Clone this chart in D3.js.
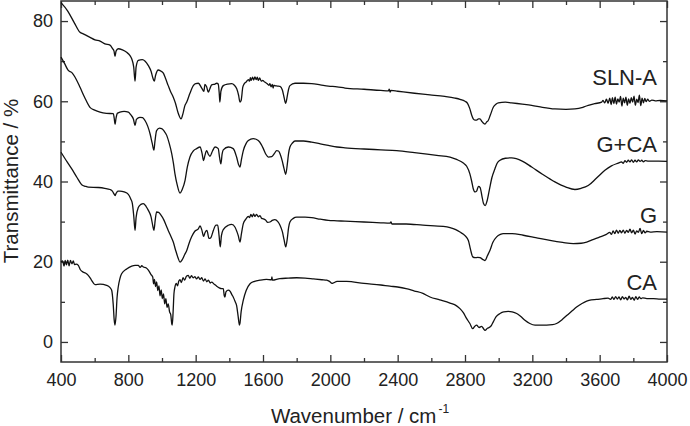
<!DOCTYPE html>
<html><head><meta charset="utf-8">
<script src="https://cdn.jsdelivr.net/npm/d3@7"></script>
<style>
html,body{margin:0;padding:0;background:#fff;}
svg{display:block;font-family:"Liberation Sans",Arial,sans-serif;}
</style></head>
<body><svg id="chart" width="690" height="426"></svg>
<script>
// ---- data (wavenumber cm^-1, transmittance %) ----
const xMajorTicks = [400,800,1200,1600,2000,2400,2800,3200,3600,4000];
const yMajorTicks = [0,20,40,60,80];
const seriesNames = ["SLN-A","G+CA","G","CA"];

const slnA = [[400,84.6],[440,82.5],[480,79.5],[513,77.2],[532,76.8],[570,76.0],[602,75.3],[632,75.0],[661,74.3],[691,74.0],[705,73.2],[715,72.5],[721,71.2],[727,72.5],[740,73.1],[765,72.8],[790,72.2],[810,71.4],[820,70.6],[832,68.5],[840,65.0],[846,68.5],[859,70.2],[883,70.4],[900,70.0],[919,68.9],[935,67.5],[946,65.8],[954,65.0],[962,66.5],[978,67.8],[990,67.6],[1008,67.0],[1020,65.8],[1037,63.9],[1050,62.5],[1067,61.0],[1080,59.5],[1095,57.2],[1113,55.6],[1125,57.0],[1135,58.8],[1147,59.8],[1166,62.0],[1186,63.9],[1200,64.4],[1216,64.5],[1236,63.3],[1249,62.5],[1255,64.2],[1265,63.6],[1275,62.3],[1285,63.2],[1295,64.1],[1315,64.3],[1325,64.5],[1334,64.3],[1340,62.0],[1344,59.8],[1350,62.5],[1364,63.9],[1390,64.3],[1414,64.4],[1430,64.0],[1444,63.1],[1455,61.5],[1463,59.8],[1470,60.2],[1480,63.5],[1489,64.4],[1500,64.8],[1513,65.4],[1520,65.0],[1525,65.9],[1530,65.2],[1538,66.0],[1545,65.3],[1552,66.1],[1560,65.4],[1566,66.0],[1572,65.2],[1580,65.8],[1590,65.0],[1598,65.2],[1610,64.8],[1625,64.4],[1635,64.0],[1641,64.4],[1648,63.6],[1655,64.2],[1660,63.3],[1665,64.0],[1671,63.9],[1685,63.8],[1701,63.7],[1715,62.8],[1725,61.0],[1735,59.5],[1745,61.5],[1752,63.0],[1760,63.9],[1790,64.5],[1840,64.5],[1889,64.4],[1940,64.1],[1988,63.8],[2040,63.6],[2087,63.3],[2200,63.0],[2300,62.7],[2345,62.6],[2350,63.0],[2355,62.3],[2360,62.7],[2400,62.5],[2500,62.0],[2592,61.6],[2680,61.2],[2740,60.8],[2770,60.5],[2800,60.0],[2815,59.5],[2829,58.1],[2840,56.5],[2849,55.6],[2859,55.3],[2869,55.3],[2880,55.6],[2889,55.6],[2900,55.0],[2910,54.5],[2919,54.3],[2928,54.8],[2938,55.2],[2950,56.5],[2968,58.5],[2985,59.3],[2998,59.6],[3040,59.8],[3077,59.6],[3140,59.3],[3196,59.0],[3260,58.5],[3334,58.1],[3400,58.0],[3453,58.1],[3500,58.5],[3532,59.0],[3570,59.4],[3612,59.8],[3620,60.2],[3630,59.6],[3640,60.5],[3650,59.5],[3660,60.8],[3668,59.2],[3676,60.9],[3684,59.4],[3692,61.0],[3700,59.3],[3708,60.6],[3716,59.8],[3724,61.2],[3732,58.8],[3740,60.8],[3748,59.6],[3756,61.0],[3764,59.0],[3772,60.6],[3780,59.5],[3788,60.9],[3796,59.8],[3804,61.3],[3812,59.0],[3820,60.5],[3828,59.7],[3836,61.5],[3844,58.9],[3852,60.8],[3860,59.6],[3868,60.7],[3876,59.9],[3885,60.5],[3895,60.0],[3910,60.3],[3930,60.1],[3960,60.2],[4000,60.1]];

const gCa = [[400,71.0],[420,69.5],[443,67.7],[463,67.2],[490,65.5],[513,63.5],[540,61.0],[572,58.5],[600,57.8],[632,57.3],[670,57.0],[711,56.9],[716,55.8],[721,54.3],[727,55.8],[735,57.0],[750,57.3],[775,57.5],[800,57.3],[815,56.6],[830,55.6],[840,54.0],[848,55.5],[869,56.0],[885,55.9],[899,55.2],[915,53.8],[929,51.9],[942,49.5],[952,47.8],[958,50.0],[968,52.7],[985,53.3],[998,53.2],[1012,52.6],[1028,51.5],[1043,49.5],[1058,46.9],[1068,44.5],[1077,41.9],[1090,39.2],[1107,37.1],[1120,38.0],[1137,40.3],[1150,43.5],[1166,46.1],[1186,47.6],[1206,48.2],[1226,48.6],[1238,47.0],[1247,45.2],[1255,46.5],[1265,47.7],[1275,46.8],[1285,46.3],[1300,47.6],[1315,48.6],[1334,48.2],[1342,46.0],[1350,44.4],[1357,46.8],[1364,47.9],[1394,48.6],[1423,48.2],[1443,46.1],[1455,44.2],[1463,43.6],[1472,45.5],[1483,47.7],[1500,49.5],[1513,50.2],[1542,50.7],[1572,50.2],[1590,49.2],[1602,48.2],[1617,46.8],[1632,46.1],[1652,46.2],[1668,47.0],[1681,47.7],[1692,47.6],[1701,46.9],[1715,45.0],[1725,43.2],[1735,41.8],[1745,44.5],[1752,47.0],[1760,48.6],[1775,49.6],[1790,50.1],[1840,50.1],[1889,49.8],[1940,49.4],[1988,49.0],[2040,48.6],[2087,48.4],[2200,48.1],[2300,47.9],[2394,47.7],[2500,47.2],[2632,46.5],[2711,46.1],[2750,45.5],[2790,44.6],[2810,43.8],[2829,41.9],[2840,40.0],[2849,38.2],[2860,37.4],[2869,37.6],[2880,38.8],[2890,38.5],[2900,36.5],[2910,34.5],[2920,34.0],[2930,35.0],[2945,38.0],[2960,41.0],[2978,43.2],[2990,44.5],[3008,45.3],[3040,45.8],[3077,45.9],[3140,45.1],[3196,43.6],[3260,41.8],[3334,39.9],[3400,38.6],[3453,38.0],[3490,38.3],[3532,39.0],[3580,40.8],[3631,42.8],[3670,43.9],[3711,44.6],[3730,44.9],[3740,44.5],[3750,45.2],[3760,44.8],[3770,45.3],[3780,44.9],[3790,45.4],[3800,44.8],[3810,45.3],[3820,44.9],[3830,45.4],[3840,45.0],[3850,45.3],[3860,44.9],[3870,45.2],[3890,45.1],[3950,45.1],[4000,45.0]];

const gOnly = [[400,47.3],[430,45.3],[463,43.2],[495,41.0],[523,39.2],[545,38.8],[562,38.6],[622,38.5],[660,38.3],[691,38.0],[705,37.6],[715,36.9],[721,36.5],[727,37.0],[738,37.6],[750,37.6],[775,37.4],[800,36.8],[815,35.6],[824,34.5],[832,31.5],[840,27.8],[846,31.0],[859,33.5],[875,34.3],[889,34.5],[905,33.8],[919,32.8],[935,31.2],[945,29.0],[952,27.8],[960,30.5],[968,32.4],[980,32.3],[994,31.6],[1010,30.5],[1025,29.0],[1037,27.8],[1050,26.6],[1067,24.9],[1080,23.0],[1095,21.0],[1107,19.9],[1120,20.5],[1135,21.8],[1147,22.8],[1160,24.5],[1176,26.2],[1195,27.6],[1216,28.2],[1226,28.9],[1236,28.0],[1247,26.3],[1256,27.3],[1267,27.8],[1279,25.8],[1290,26.0],[1305,27.8],[1321,29.1],[1331,29.1],[1339,26.5],[1346,23.7],[1353,26.5],[1364,28.0],[1394,29.1],[1414,29.3],[1434,28.6],[1445,27.5],[1453,26.5],[1463,24.9],[1472,27.0],[1483,29.5],[1498,30.6],[1513,31.3],[1520,31.0],[1528,31.8],[1536,31.2],[1544,31.9],[1552,31.3],[1562,31.8],[1572,31.2],[1582,31.5],[1592,30.8],[1602,30.7],[1615,30.4],[1628,29.8],[1641,29.9],[1655,30.3],[1671,30.5],[1688,30.0],[1701,29.1],[1715,27.5],[1725,25.5],[1735,23.7],[1745,26.0],[1752,28.5],[1760,29.9],[1780,30.8],[1800,31.1],[1850,31.1],[1889,31.0],[1940,30.6],[1988,30.3],[2040,30.2],[2087,30.1],[2200,29.9],[2300,29.7],[2354,29.6],[2360,29.9],[2366,29.4],[2450,29.4],[2550,29.1],[2671,28.8],[2711,28.5],[2745,28.0],[2770,27.4],[2800,26.5],[2820,25.3],[2833,23.0],[2846,21.2],[2860,21.0],[2875,21.1],[2889,21.0],[2905,20.6],[2919,20.3],[2933,21.5],[2948,22.8],[2965,24.8],[2988,26.2],[3010,26.8],[3027,27.0],[3080,27.0],[3146,26.6],[3220,26.0],[3305,25.3],[3380,24.8],[3443,24.5],[3490,24.6],[3523,24.9],[3560,25.5],[3602,26.2],[3640,26.8],[3660,27.3],[3670,26.8],[3680,27.7],[3690,27.0],[3700,27.9],[3710,27.1],[3720,27.8],[3730,27.2],[3740,27.9],[3750,27.1],[3760,27.8],[3770,27.3],[3780,28.1],[3790,27.2],[3800,27.9],[3810,26.9],[3820,27.7],[3830,27.3],[3840,28.3],[3850,27.0],[3860,27.8],[3870,27.2],[3880,27.6],[3900,27.4],[3940,27.5],[4000,27.4]];

const caOnly = [[400,19.9],[410,20.2],[418,18.9],[425,20.3],[432,19.2],[440,20.4],[448,19.0],[456,20.3],[465,19.5],[473,20.2],[480,19.3],[490,19.4],[503,19.1],[515,18.0],[532,17.4],[545,17.2],[562,16.6],[580,15.5],[602,14.3],[632,14.4],[671,14.1],[690,13.6],[701,12.9],[710,9.5],[716,5.5],[721,4.2],[727,6.5],[733,11.0],[740,13.7],[750,15.8],[760,17.0],[790,18.2],[820,18.9],[840,19.1],[859,19.1],[870,18.6],[880,19.0],[889,18.7],[905,18.5],[919,17.9],[935,16.8],[945,16.2],[950,14.5],[955,15.6],[962,13.8],[968,15.0],[975,12.8],[982,14.0],[988,11.5],[995,13.0],[1002,10.8],[1009,12.0],[1016,9.5],[1023,10.8],[1030,8.6],[1037,9.5],[1045,7.5],[1052,6.8],[1058,4.5],[1061,4.2],[1066,7.5],[1071,12.0],[1077,13.7],[1085,14.6],[1092,14.0],[1100,15.2],[1107,15.5],[1115,14.8],[1125,16.0],[1135,15.4],[1145,16.4],[1156,16.6],[1165,15.9],[1175,16.5],[1185,16.0],[1196,16.3],[1205,15.7],[1216,16.2],[1226,15.6],[1236,16.0],[1246,15.2],[1256,15.7],[1266,15.0],[1276,15.4],[1286,14.7],[1295,14.9],[1310,14.4],[1325,13.9],[1340,13.5],[1355,13.3],[1364,13.3],[1370,11.5],[1374,11.2],[1380,12.5],[1394,12.9],[1405,12.6],[1415,11.8],[1423,11.2],[1435,10.0],[1443,9.1],[1452,6.5],[1460,4.2],[1463,4.6],[1470,7.5],[1483,10.4],[1500,12.8],[1523,14.5],[1550,15.1],[1582,15.4],[1620,15.6],[1650,15.5],[1653,16.2],[1656,15.4],[1700,15.8],[1750,15.9],[1800,16.0],[1850,15.9],[1900,15.7],[1950,15.5],[1978,15.4],[1995,15.1],[2010,14.6],[2018,14.7],[2040,15.1],[2097,15.1],[2200,14.6],[2300,14.2],[2354,13.9],[2400,13.7],[2450,13.3],[2500,12.7],[2550,12.1],[2592,11.2],[2650,10.5],[2711,9.7],[2750,9.0],[2770,8.3],[2790,7.3],[2810,5.8],[2829,4.6],[2846,3.3],[2858,3.9],[2869,4.2],[2884,3.6],[2899,3.9],[2910,3.3],[2919,2.9],[2933,3.4],[2948,3.7],[2958,4.2],[2968,5.0],[2985,6.3],[3008,7.1],[3030,7.5],[3057,7.6],[3080,7.5],[3107,7.1],[3130,6.4],[3156,5.4],[3185,4.6],[3216,4.2],[3250,4.2],[3285,4.2],[3320,4.3],[3344,4.6],[3375,5.5],[3404,6.6],[3435,7.7],[3463,8.7],[3495,9.6],[3523,10.2],[3550,10.5],[3582,10.6],[3620,10.8],[3650,10.9],[3665,10.6],[3675,11.2],[3685,10.6],[3695,11.3],[3705,10.7],[3715,11.2],[3725,10.5],[3735,11.3],[3745,10.7],[3755,11.1],[3765,10.5],[3775,11.4],[3785,10.6],[3795,11.1],[3805,10.4],[3815,11.3],[3825,10.6],[3835,11.2],[3845,10.8],[3855,11.0],[3880,10.8],[3920,10.8],[3960,10.7],[4000,10.7]];

const seriesData = [slnA, gCa, gOnly, caOnly];
const labelY = [85, 151.5, 222.5, 290]; // baseline pixel of curve labels

// ---- layout ----
const svg = d3.select("#chart");
const L = 61, R = 667, T = 1, B = 362;
const x = d3.scaleLinear().domain([400,4000]).range([L,R]);
const y = d3.scaleLinear().domain([-5,85]).range([B,T]);
const axisColor = "#333";

const xMinor = d3.range(600, 4000, 400);
const yMinor = [10,30,50,70];

function styleAxis(g){
  g.select(".domain").remove();
  g.selectAll(".tick line").attr("stroke",axisColor).attr("stroke-width",1.3);
  g.selectAll(".tick text").attr("fill","#222").attr("font-size",18)
    .attr("font-family","'Liberation Sans',Arial,sans-serif");
}

// bottom
svg.append("g").attr("transform",`translate(0,${B})`)
  .call(d3.axisBottom(x).tickValues(xMajorTicks).tickSize(-7).tickPadding(11).tickFormat(d3.format("d")))
  .call(styleAxis);
svg.append("g").attr("transform",`translate(0,${B})`)
  .call(d3.axisBottom(x).tickValues(xMinor).tickSize(-4).tickFormat(""))
  .call(styleAxis);
// top
svg.append("g").attr("transform",`translate(0,${T})`)
  .call(d3.axisTop(x).tickValues(xMajorTicks).tickSize(-7).tickFormat(""))
  .call(styleAxis);
svg.append("g").attr("transform",`translate(0,${T})`)
  .call(d3.axisTop(x).tickValues(xMinor).tickSize(-4).tickFormat(""))
  .call(styleAxis);
// left
svg.append("g").attr("transform",`translate(${L},0)`)
  .call(d3.axisLeft(y).tickValues(yMajorTicks).tickSize(-7).tickPadding(8))
  .call(styleAxis);
svg.append("g").attr("transform",`translate(${L},0)`)
  .call(d3.axisLeft(y).tickValues(yMinor).tickSize(-4).tickFormat(""))
  .call(styleAxis);
// right
svg.append("g").attr("transform",`translate(${R},0)`)
  .call(d3.axisRight(y).tickValues(yMajorTicks).tickSize(-7).tickFormat(""))
  .call(styleAxis);
svg.append("g").attr("transform",`translate(${R},0)`)
  .call(d3.axisRight(y).tickValues(yMinor).tickSize(-4).tickFormat(""))
  .call(styleAxis);

// frame
svg.append("rect").attr("x",L).attr("y",T).attr("width",R-L).attr("height",B-T)
  .attr("fill","none").attr("stroke",axisColor).attr("stroke-width",1.5);

// lines
const line = d3.line().x(d=>x(d[0])).y(d=>y(d[1])).curve(d3.curveMonotoneX);
svg.append("g").selectAll("path").data(seriesData).join("path")
  .attr("d",line).attr("fill","none").attr("stroke","#111").attr("stroke-width",1.3)
  .attr("stroke-linejoin","round");

// curve labels
svg.append("g").selectAll("text").data(seriesNames).join("text")
  .attr("x",657).attr("y",(d,i)=>labelY[i]).attr("text-anchor","end")
  .attr("font-size",22).attr("fill","#222").text(d=>d);

// axis titles
svg.append("text").attr("transform","translate(18,181) rotate(-90)")
  .attr("text-anchor","middle").attr("font-size",20.5).attr("fill","#222")
  .text("Transmittance / %");
const xt = svg.append("text").attr("x",360).attr("y",423).attr("text-anchor","middle")
  .attr("font-size",20.5).attr("fill","#222");
xt.append("tspan").text("Wavenumber / cm");
xt.append("tspan").attr("font-size",12).attr("dx",2).attr("dy",-10).text("-1");
</script>
</body></html>
